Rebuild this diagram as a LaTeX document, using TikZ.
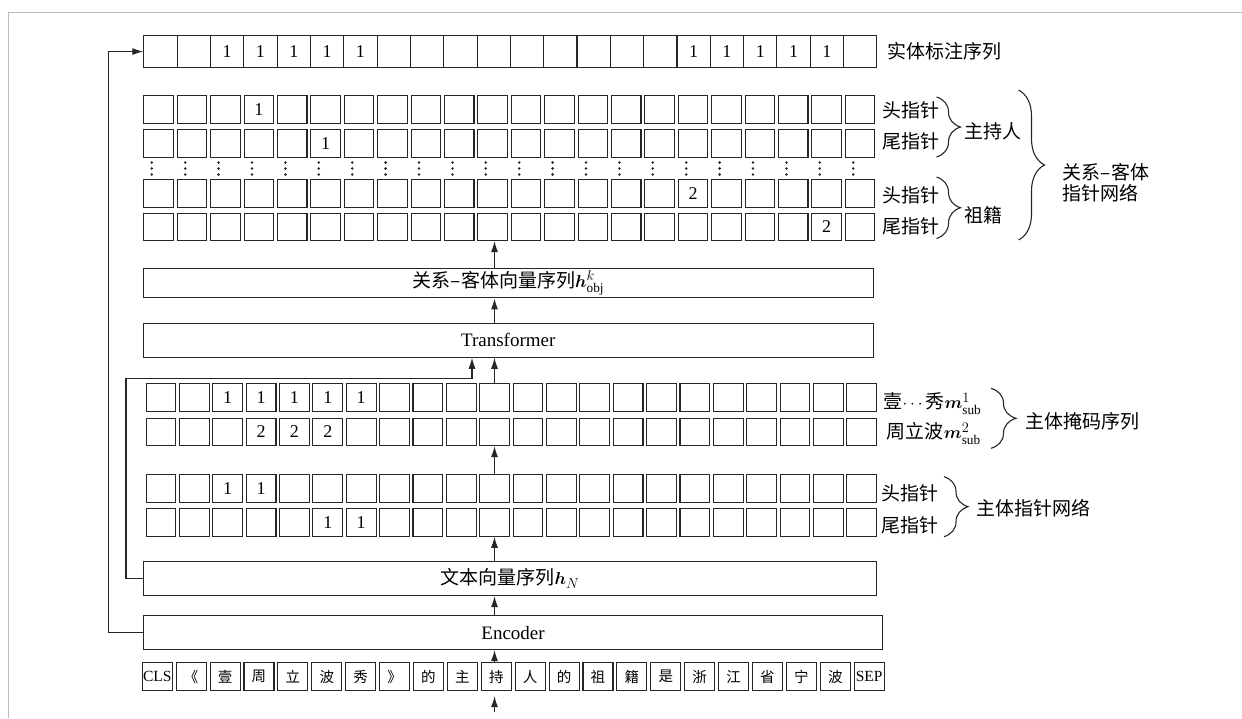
\documentclass[tikz,border=0pt]{standalone}
\usepackage{amsmath}
\usepackage{fontspec}
\setmainfont{Liberation Serif}
\newfontfamily\cjk{Noto Sans CJK SC}
\usetikzlibrary{arrows.meta,decorations.pathreplacing,calc}
\newcommand\cellrow[7]{%
  \foreach \v [count=\i from 0] in {#7} {%
    \ifnum\v=0 \def\cellval{}\else\edef\cellval{\v}\fi
    \node[box, minimum width=#5pt, minimum height=#6pt] (#1\i) at ({#2+#3*\i},#4) {\cellval};
  }}
\begin{document}
\begin{tikzpicture}[x=1pt,y=-1pt,
  box/.style={draw=black!85, line width=1.1pt, inner sep=0pt, anchor=north west,
    font=\fontsize{18}{20}\selectfont},
  bar/.style={draw=black!85, line width=1.1pt, inner sep=0pt, anchor=north west,
    font=\fontsize{19}{22}\selectfont},
  lbl/.style={inner sep=0pt, anchor=west, font=\cjk\fontsize{19}{22}\selectfont},
  arr/.style={draw=black!85, line width=1.1pt, -{Latex[length=11pt,width=7pt]}},
  brc/.style={draw=black!85, line width=1.1pt, decorate},
]
\useasboundingbox (0,0) rectangle (1242,718);
% page frame
\draw[gray!55, line width=1pt] (8.3,718) -- (8.3,12.7) -- (1242,12.7);

% entity tagging sequence (continuous strip)
\cellrow{e}{143.3}{33.32}{35}{33.32}{32}{0,0,1,1,1,1,1,0,0,0,0,0,0,0,0,0,1,1,1,1,1,0}

% relation-object pointer rows
\cellrow{ra}{143.3}{33.4}{95}{29.5}{28.3}{0,0,0,1,0,0,0,0,0,0,0,0,0,0,0,0,0,0,0,0,0,0}
\cellrow{rb}{143.3}{33.4}{129}{29.5}{27.7}{0,0,0,0,0,1,0,0,0,0,0,0,0,0,0,0,0,0,0,0,0,0}
\cellrow{rc}{143.3}{33.4}{179.3}{29.5}{27.4}{0,0,0,0,0,0,0,0,0,0,0,0,0,0,0,0,2,0,0,0,0,0}
\cellrow{rd}{143.3}{33.4}{212.7}{29.5}{27.3}{0,0,0,0,0,0,0,0,0,0,0,0,0,0,0,0,0,0,0,0,2,0}
\foreach \i in {0,...,21} {
  \foreach \dy in {162.5,168.5,174.5}
    \fill[black!85] ({151.8+33.4*\i},\dy) circle (1.4pt);
}

% bars
\node[bar, minimum width=729.4pt, minimum height=29pt] (rel) at (143.3,268.3)
  {\cjk 关系–客体向量序列$\boldsymbol{h}^{k}_{\mathrm{obj}}$};
\node[bar, minimum width=730pt, minimum height=34pt] (trans) at (142.7,322.7) {Transformer};

% subject mask rows
\cellrow{ma}{145.5}{33.37}{383.3}{29.8}{27.7}{0,0,1,1,1,1,1,0,0,0,0,0,0,0,0,0,0,0,0,0,0,0}
\cellrow{mb}{145.5}{33.37}{417.7}{29.8}{27.3}{0,0,0,2,2,2,0,0,0,0,0,0,0,0,0,0,0,0,0,0,0,0}

% subject pointer rows
\cellrow{sa}{145.5}{33.37}{473.5}{29.8}{28.2}{0,0,1,1,0,0,0,0,0,0,0,0,0,0,0,0,0,0,0,0,0,0}
\cellrow{sb}{145.5}{33.37}{507.7}{29.8}{28}{0,0,0,0,0,1,1,0,0,0,0,0,0,0,0,0,0,0,0,0,0,0}

\node[bar, minimum width=732.4pt, minimum height=34pt] (txt) at (143.3,561)
  {\cjk 文本向量序列$\boldsymbol{h}_{N}$};
\node[bar, minimum width=738.4pt, minimum height=34pt] (enc) at (143.3,615) {Encoder};

% tokens
\foreach \w [count=\i from 0] in {CLS,《,壹,周,立,波,秀,》,的,主,持,人,的,祖,籍,是,浙,江,省,宁,波,SEP} {
  \ifnum\i=0 \def\tokfont{\fontsize{15.5}{17}\selectfont}%
  \else\ifnum\i=21 \def\tokfont{\fontsize{15.5}{17}\selectfont}%
  \else \def\tokfont{\cjk\fontsize{14.5}{17}\selectfont}\fi\fi
  \node[box, minimum width=30pt, minimum height=27.7pt, font=\tokfont] (tok\i) at ({141.7+33.9*\i},662.3) {\w};
}

% arrows in the main column
\coordinate (ax) at (494.5,0);
\coordinate (lx) at (472,0);
\coordinate (below) at (494.5,712);
\draw[arr] (below) -- ($(tok10.south -| ax)+(0,5)$);
\draw[arr] (tok10.north -| ax) -- (enc.south -| ax);
\draw[arr] (enc.north -| ax) -- (txt.south -| ax);
\draw[arr] (txt.north -| ax) -- (sb10.south -| ax);
\draw[arr] (sa10.north -| ax) -- (mb10.south -| ax);
\draw[arr] (ma10.north -| ax) -- (trans.south -| ax);
\draw[arr] (trans.north -| ax) -- (rel.south -| ax);
\draw[arr] (rel.north -| ax) -- (rd10.south -| ax);
% skip connections
\draw[arr] (txt.west) -- ++(-17.3,0) |- (472,378.3) -- (trans.south -| lx);
\draw[arr] (enc.west) -- ++(-35,0) |- (e0.west);

% right-hand labels
\node[lbl] (l-ent) at (887,51.7) {实体标注序列};
\node[lbl] (l-h1) at (882,110) {头指针};
\node[lbl] (l-t1) at (882,141.7) {尾指针};
\node[lbl] (l-h2) at (882,195) {头指针};
\node[lbl] (l-t2) at (882,226.7) {尾指针};
\draw[brc, decoration={brace,amplitude=24pt}] (936.5,97) -- (936.5,157);
\draw[brc, decoration={brace,amplitude=24pt}] (936.5,177) -- (936.5,238.5);
\node[lbl] (l-host) at (964,131.7) {主持人};
\node[lbl] (l-home) at (964,215) {祖籍};
\draw[brc, decoration={brace,amplitude=26pt}] (1018.5,90) -- (1018.5,240);
\node[lbl, align=left, font=\cjk\fontsize{19}{21.6}\selectfont] (l-ron) at (1062.7,182.5) {关系–客体\\指针网络};

\node[lbl] (l-m1) at (883.3,403.3) {壹$\cdots$秀$\boldsymbol{m}^{1}_{\mathrm{sub}}$};
\node[lbl] (l-m2) at (886.7,433.3) {周立波$\boldsymbol{m}^{2}_{\mathrm{sub}}$};
\draw[brc, decoration={brace,amplitude=25pt}] (991,388.3) -- (991,448.3);
\node[lbl] (l-mask) at (1025,421.7) {主体掩码序列};

\node[lbl] (l-h3) at (881.7,493.3) {头指针};
\node[lbl] (l-t3) at (881.7,525) {尾指针};
\draw[brc, decoration={brace,amplitude=24pt}] (944,476.7) -- (944,536.7);
\node[lbl] (l-subj) at (976.7,508.3) {主体指针网络};
\end{tikzpicture}
\end{document}
